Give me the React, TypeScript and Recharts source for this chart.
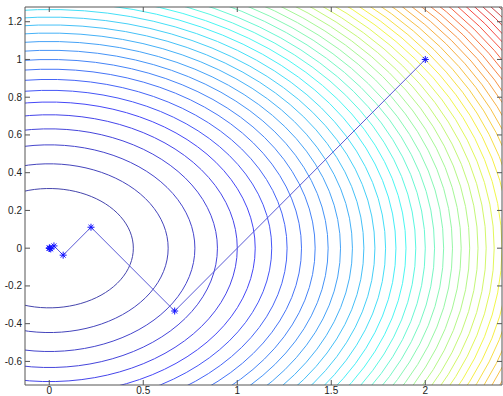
import React from 'react';
import { ComposedChart, Line, XAxis, YAxis } from 'recharts';

// tick labels
const xTicks = [0, 0.5, 1, 1.5, 2];
const yTicks = [-0.6, -0.4, -0.2, 0, 0.2, 0.4, 0.6, 0.8, 1, 1.2];

// contour levels (crossings on y = 0 fall at sqrt(level))
const levels = [
  0.2, 0.4, 0.6, 0.8, 1.0, 1.2, 1.4, 1.6, 1.8, 2.0,
  2.2, 2.4, 2.6, 2.8, 3.0, 3.2, 3.4, 3.6, 3.8, 4.0,
  4.2, 4.4, 4.6, 4.8, 5.0, 5.2, 5.4, 5.6, 5.8, 6.0,
  6.2, 6.4, 6.6, 6.8, 7.0, 7.2, 7.4, 7.6, 7.8, 8.0,
  8.2, 8.4, 8.6, 8.8, 9.0,
];
// y semi-axis / x semi-axis of each ring (0.31 / 0.44)
const ringRatio = 0.707;
const colorMax = 9.4;

// descent path, starred points
const pathX = [2, 0.667, 0.222, 0.074, 0.025, 0.008, 0.003, 0.001, 0];
const pathY = [1, -0.333, 0.111, -0.037, 0.012, -0.004, 0.001, 0, 0];

const pathData = pathX.map((x, i) => ({ x, y: pathY[i] }));

function jet(t: number) {
  const c = (v: number) => Math.max(0, Math.min(1, v));
  const r = c(1.5 - Math.abs(4 * t - 3));
  const g = c(1.5 - Math.abs(4 * t - 2));
  const b = c(1.5 - Math.abs(4 * t - 1));
  // thin lines look washed out in the original
  const w = (v: number) => Math.round(255 * (v * 0.7 + 0.27));
  return `rgb(${w(r)},${w(g)},${w(b)})`;
}

function ring(level: number) {
  const a = Math.sqrt(level);
  const pts = [];
  for (let i = 0; i <= 90; i++) {
    const t = (i / 90) * Math.PI * 2;
    pts.push({ x: a * Math.cos(t), y: a * ringRatio * Math.sin(t) });
  }
  return pts;
}

const font = { fontFamily: 'Liberation Sans, Arial, sans-serif', fontSize: 10, fill: '#222' };
const axisColor = '#555';

const BottomTick = ({ x, y, payload }: any) => (
  <g>
    <line x1={x} y1={y} x2={x} y2={y - 5} stroke={axisColor} />
    <text x={x} y={y + 8.5} textAnchor="middle" {...font}>{payload.value}</text>
  </g>
);
const TopTick = ({ x, y }: any) => <line x1={x} y1={y} x2={x} y2={y + 5} stroke={axisColor} />;
const LeftTick = ({ x, y, payload }: any) => (
  <g>
    <line x1={x} y1={y} x2={x + 5} y2={y} stroke={axisColor} />
    <text x={x - 3} y={y + 3.5} textAnchor="end" {...font}>{payload.value}</text>
  </g>
);
const RightTick = ({ x, y }: any) => <line x1={x} y1={y} x2={x - 5} y2={y} stroke={axisColor} />;

const Star = ({ cx, cy }: any) => {
  if (cx == null || cy == null) return null;
  const s = 3.5;
  const d = s * 0.7;
  return (
    <g stroke="#1010ff" strokeWidth={1}>
      <line x1={cx - s} y1={cy} x2={cx + s} y2={cy} />
      <line x1={cx} y1={cy - s} x2={cx} y2={cy + s} />
      <line x1={cx - d} y1={cy - d} x2={cx + d} y2={cy + d} />
      <line x1={cx - d} y1={cy + d} x2={cx + d} y2={cy - d} />
    </g>
  );
};

export default function App() {
  const xDomain = [-0.129, 2.408];
  const yDomain = [-0.725, 1.278];
  return (
    <div style={{ position: 'fixed', left: 0, top: 0, width: 503, height: 396, background: '#fff' }}>
      <ComposedChart width={503} height={396} margin={{ top: 0, right: 0, bottom: 0, left: 0 }}>
        <XAxis xAxisId={0} dataKey="x" type="number" domain={xDomain} ticks={xTicks} allowDataOverflow
          height={11} tickSize={0} tickMargin={0} tickLine={false} stroke={axisColor} tick={<BottomTick />} interval={0} />
        <XAxis xAxisId="top" orientation="top" dataKey="x" type="number" domain={xDomain} ticks={xTicks} allowDataOverflow
          height={7} tickSize={0} tickMargin={0} tickLine={false} stroke={axisColor} tick={<TopTick />} interval={0} />
        <YAxis yAxisId={0} dataKey="y" type="number" domain={yDomain} ticks={yTicks} allowDataOverflow
          width={25} tickSize={0} tickMargin={0} tickLine={false} stroke={axisColor} tick={<LeftTick />} interval={0} />
        <YAxis yAxisId="right" orientation="right" dataKey="y" type="number" domain={yDomain} ticks={yTicks} allowDataOverflow
          width={1} tickSize={0} tickMargin={0} tickLine={false} stroke={axisColor} tick={<RightTick />} interval={0} />
        {levels.map((lv) => (
          <Line key={lv} data={ring(lv)} dataKey="y" type="linear" stroke={jet(lv / colorMax)} strokeWidth={1}
            dot={false} activeDot={false} isAnimationActive={false} />
        ))}
        <Line data={pathData} dataKey="y" type="linear" stroke="#5a5ad6" strokeWidth={1}
          dot={<Star />} activeDot={false} isAnimationActive={false} />
      </ComposedChart>
    </div>
  );
}
